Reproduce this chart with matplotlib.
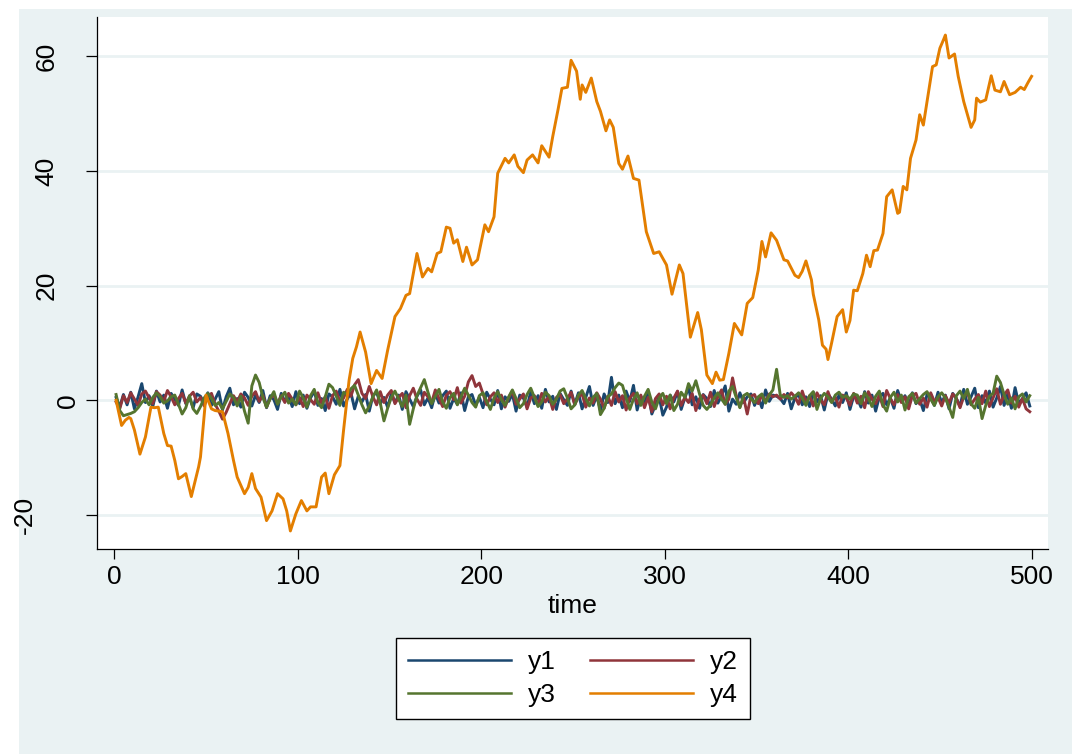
import matplotlib
matplotlib.use("Agg")
import matplotlib.pyplot as plt
import numpy as np
from matplotlib.patches import Rectangle
from matplotlib.transforms import blended_transform_factory

plt.rcParams['font.family'] = ['Liberation Sans', 'DejaVu Sans']

# Stata s2color palette
NAVY = "#1a476f"
MAROON = "#90353b"
FOREST = "#55752f"
DKORANGE = "#e37e00"
BLUISH = "#eaf2f3"

# y1..y3 read every second time step
t_noise = list(range(1, 500, 2))

y1 = [0.5, -1.2, 1.0, -0.8, 1.4, -1.5, 0.6, 2.9, -0.4, 0.8, -1.1, 1.6, -0.3, 0.9, -1.4, 1.2, 0.2, -0.9, 1.8, -0.6, 0.4, -1.3, 1.1, 0.7, -0.5,
      1.3, -0.9, 0.2, 1.5, -1.7, 0.6, 2.1, -0.8, 0.3, -1.2, 1.4, 0.5, -1.0, 0.9, -0.4, 1.7, -1.3, 0.8, 0.1, -1.6, 1.2, -0.2, 0.7, -1.1, 1.5,
      -0.6, 0.9, -1.4, 0.4, 1.6, -0.9, 0.3, -1.8, 1.1, 0.6, -0.7, 1.9, -1.0, 0.2, 1.3, -1.5, 0.7, -0.3, 1.0, -1.9, 0.8, 1.4, -0.6, 0.5, -1.2,
      1.1, -0.4, 0.9, -1.6, 1.5, 0.2, -1.1, 0.7, 1.8, -0.8, 0.4, -1.3, 1.2, -0.5, 0.8, 1.6, -1.4, 0.3, -0.7, 1.3, -1.8, 0.6, 1.0, -0.9, 0.5,
      -1.3, 1.4, 0.2, -0.8, 1.7, -1.5, 0.6, -0.2, 1.1, -1.9, 0.9, 0.4, -1.2, 1.5, -0.6, 0.8, -1.4, 1.9, -0.3, 0.7, -1.6, 1.2, 0.1, -0.9, 1.6,
      -0.7, 1.3, -1.5, 0.5, 2.4, -0.9, 0.8, -1.8, 1.1, -0.4, 4.0, -0.6, 0.9, -1.3, 1.6, -0.2, 2.6, -1.7, 0.7, -0.5, 1.4, -2.4, -0.8, 0.6, -2.6,
      -1.2, 0.9, -0.3, 1.5, -1.6, 0.4, 2.2, -0.8, 0.6, -1.4, 1.0, 0.3, -1.1, 1.7, -0.5, 0.8, 2.5, -1.9, 0.2, -0.7, 1.3, -0.4, 0.6, 1.1, -0.9,
      0.5, -1.3, 1.8, -0.2, 0.9, 0.7, 0.3, -0.6, 1.2, -1.5, 0.4, 1.0, -0.8, 0.6, -1.1, 1.4, -0.3, 0.8, -1.7, 1.1, 0.2, -1.0, 0.9, -0.4, 1.3,
      -1.6, 0.7, 0.3, -1.2, 1.5, -0.5, 0.9, -1.9, 0.6, 1.2, -0.8, 0.4, -1.4, 1.7, -0.2, 0.8, -1.1, 1.3, -0.6, 0.2, -1.8, 1.0, 0.5, -0.9, 1.4,
      -0.4, 0.9, -1.5, 1.2, 0.3, -1.1, 1.9, -0.7, 0.6, 2.1, -1.3, 0.8, -0.5, 1.6, -1.2, 0.4, 2.4, -0.9, 1.1, -1.4, 2.2, -0.6, 0.3, 1.3, -1.0]

y2 = [-0.3, -1.5, 0.8, -0.4, 1.3, 0.2, -0.9, 1.1, 1.6, 0.4, -0.6, 1.5, 0.9, -0.2, 1.7, 0.6, -0.8, 0.3, 1.2, -0.5, 0.7, 1.4, -0.3, 0.5, -1.0,
      0.6, 1.2, -0.7, -1.9, -3.3, -2.1, -0.6, 0.8, -0.3, 1.1, 0.4, -0.9, 0.7, 1.5, -0.2, 0.9, -1.2, 0.3, 1.0, -0.6, 0.8, -0.4, 1.2, 0.2, -0.8,
      0.5, -1.1, 0.9, 0.1, -0.7, 1.3, -0.5, 0.6, -1.4, 0.8, 1.6, -0.3, 0.4, 1.9, 0.7, 2.7, 3.6, 1.2, 0.3, 2.4, 0.6, -0.8, 1.5, -0.4, 0.9,
      1.7, -0.6, 0.5, 1.2, -1.3, 0.8, 2.1, 0.2, -0.9, 1.4, 0.6, -0.4, 1.8, 0.3, -1.1, 0.9, 1.5, 0.1, 2.2, -0.5, 0.7, 3.2, 4.3, 2.4, 3.0,
      1.1, -0.8, 0.6, 1.3, -0.4, 0.9, -1.2, 0.5, 1.6, -0.7, 0.2, 1.1, -1.5, 0.4, 0.8, -0.9, 1.2, -0.3, 0.7, -1.6, 0.5, 1.0, -0.6, 0.3, 1.4,
      -0.8, 0.6, 1.1, -1.2, 0.4, -0.5, 1.3, 0.2, -1.4, 0.7, -0.9, 1.5, -0.3, 0.8, -1.7, 0.4, 1.2, -0.6, 0.9, -1.3, 0.5, -2.0, 0.3, 1.1, -0.8,
      0.7, -1.5, 0.4, 1.6, -0.9, 0.5, -0.4, 1.2, -1.8, 0.3, 0.9, -0.6, 1.4, -1.1, 0.6, 1.8, -0.7, 0.2, 3.9, 0.8, -1.2, 0.5, -2.4, 0.7, 1.0,
      -0.6, 0.9, -0.2, 1.1, 0.6, 0.9, 0.2, 1.0, 0.4, 1.3, 0.6, -0.7, 1.6, -0.4, 0.8, -1.0, 1.3, 0.1, -0.8, 1.5, -0.3, 0.6, -1.2, 0.9, 0.4,
      -0.9, 1.2, -0.5, 0.7, -1.3, 1.5, 0.2, -0.6, 0.9, -1.1, 1.7, 0.3, -0.8, 1.0, -0.4, 0.6, -1.5, 0.8, 1.2, -0.7, 0.4, -1.2, 1.3, -0.2, 0.5,
      -1.0, 0.8, -0.5, 1.1, 0.3, -1.3, 0.6, 1.4, -0.8, 0.2, 1.0, -0.6, 1.6, -1.1, 0.4, 2.0, -0.7, 0.9, 1.8, -0.5, 0.7, -1.2, 0.3, -1.5, -2.0]

y3 = [1.0, -1.8, -2.7, -2.5, -2.3, -2.0, -1.3, -0.4, 0.2, -0.8, 0.5, 1.3, 0.6, -0.5, -0.1, 0.6, 0.9, -0.7, -2.4, -1.3, 0.8, -1.5, -2.3, -1.1, 0.4,
      1.2, 0.3, -0.9, -0.4, -1.5, -0.2, 1.1, 0.5, -1.0, 0.7, -1.9, -4.0, 2.5, 4.4, 3.1, 0.5, -1.2, 0.3, 1.5, -0.7, 0.6, 1.4, -0.5, 0.2, -0.8,
      1.6, 0.4, -1.2, 0.8, 1.9, -0.4, -1.3, 0.6, 2.8, 2.2, 0.7, -0.9, 1.4, 1.0, 2.0, 2.6, 0.9, -0.8, -2.2, -1.0, 0.6, 1.8, -0.5, -3.6, -1.4,
      0.5, 1.6, 0.2, -1.1, 0.9, -4.2, -1.5, 0.8, 2.2, 3.6, 1.4, -0.6, 0.7, 1.9, -0.3, -1.4, 0.5, 1.2, -0.8, 0.6, 2.1, 0.9, -0.4, -1.2, 0.8,
      1.3, -0.2, -1.6, 0.4, 1.5, 0.1, -0.9, 0.6, 1.8, 0.3, -1.3, -0.6, 1.0, 2.1, 0.5, -1.1, -0.3, 1.4, 0.8, -0.7, 0.2, 1.6, 2.0, 0.4, -1.5,
      -0.8, 0.9, 1.7, 0.3, -1.0, 0.5, 1.2, -2.5, -1.4, 0.6, 1.1, 2.2, 3.0, 2.6, 0.4, -1.6, 0.2, 1.3, -0.9, 0.7, 1.9, -0.3, -1.5, 0.4, 1.2,
      -0.6, 0.9, -1.8, -0.7, 1.4, 0.5, 2.9, 1.6, 3.4, 1.1, -0.9, -1.6, -0.8, 0.4, 1.3, 0.2, -0.7, 1.6, 2.4, 0.5, -1.3, 0.8, 1.2, 0.3, -0.4,
      0.6, 1.1, -0.5, 0.9, 1.8, 5.4, 0.9, 0.5, 0.8, 0.2, 0.7, 1.3, 0.4, -0.9, 0.8, 1.5, -1.6, 0.3, 1.2, 0.6, -0.4, 0.9, 1.4, 0.5, 0.8,
      0.2, 1.1, 0.9, -0.6, 1.3, 0.4, -1.1, 0.7, 1.6, -0.8, -1.9, 0.5, 1.4, -0.3, 0.9, -1.7, 0.6, 1.2, -0.5, 0.3, 1.0, 1.5, 0.2, -0.9, 0.6,
      1.3, 0.4, -1.2, -3.0, 0.8, 1.6, 0.3, 1.9, -0.6, -1.4, 0.5, -3.2, -0.9, 0.7, 1.2, 4.2, 3.1, 1.0, -0.7, 0.4, -1.5, 0.6, 1.1, -0.3, 0.8]

# y4 (random walk) read at its turning points
t4 = [1, 4, 6, 8, 9, 11, 14, 17, 18, 20, 22, 24, 27, 29, 31, 33, 35, 37, 39, 42, 46, 47, 50, 53, 55, 57, 59,
      62, 65, 67, 71, 73, 75, 77, 80, 83, 86, 89, 92, 94, 96, 99, 102, 105, 107, 110, 113, 115, 117, 120, 123,
      125, 128, 130, 132, 134, 137, 140, 143, 146, 149, 153, 156, 159, 161, 165, 168, 171, 173, 176, 178, 181,
      183, 185, 187, 190, 192, 195, 198, 202, 204, 207, 209, 213, 215, 218, 220, 223, 225, 228, 231, 233, 237,
      239, 242, 244, 247, 249, 252, 254, 255, 257, 260, 263, 265, 268, 270, 272, 275, 277, 280, 283, 286, 290,
      294, 297, 301, 304, 308, 310, 314, 318, 320, 323, 326, 328, 330, 332, 335, 338, 342, 345, 348, 351, 353,
      355, 358, 361, 365, 367, 371, 373, 375, 377, 380, 381, 384, 386, 388, 389, 391, 394, 397, 399, 401, 403,
      405, 408, 410, 412, 414, 416, 419, 421, 424, 427, 428, 430, 432, 434, 437, 439, 441, 443, 446, 448, 450,
      452, 453, 455, 458, 460, 463, 467, 469, 470, 472, 475, 478, 480, 483, 485, 488, 491, 494, 496, 498, 500]
y4 = [0, -4.4, -3.5, -3.0, -3.2, -5.2, -9.4, -6.4, -4.7, -1.2, -1.3, -1.2, -5.8, -7.9, -8.0, -10.5, -13.7, -13.3, -12.8, -16.8, -11.6, -9.9, 0.9, -1.5, -1.8, -1.9, -2.0,
      -5.8, -10.5, -13.4, -16.3, -15.2, -12.8, -15.4, -16.9, -21.0, -19.3, -16.3, -17.2, -19.3, -22.8, -19.8, -17.5, -19.3, -18.6, -18.6, -13.4, -12.7, -16.3, -13.0, -11.4,
      -5.2, 3.5, 7.3, 9.3, 11.9, 8.4, 2.9, 5.2, 3.8, 8.7, 14.6, 16.0, 18.3, 18.6, 25.6, 21.5, 23.0, 22.4, 25.6, 25.9, 30.2,
      30.0, 27.4, 28.0, 24.2, 26.7, 23.6, 24.5, 30.6, 29.4, 32.0, 39.6, 42.2, 41.4, 42.8, 40.8, 39.7, 41.9, 42.8, 41.4, 44.4, 42.4,
      46.0, 50.9, 54.4, 54.6, 59.3, 57.4, 52.5, 55.0, 53.7, 56.2, 52.1, 50.4, 47.0, 48.9, 47.6, 41.3, 40.3, 42.6, 38.7, 38.4, 29.4,
      25.6, 25.9, 23.6, 18.5, 23.6, 22.1, 11.0, 15.3, 12.3, 4.4, 2.9, 4.9, 3.5, 3.6, 8.2, 13.4, 11.4, 16.9, 17.9, 22.7, 27.7,
      25.0, 29.2, 27.9, 24.5, 24.3, 21.8, 21.4, 22.5, 24.3, 21.0, 18.5, 14.0, 9.6, 8.9, 7.1, 10.0, 14.6, 15.8, 11.9, 13.9, 19.2,
      19.1, 22.1, 25.3, 23.3, 26.1, 26.2, 29.1, 35.5, 36.7, 32.6, 32.8, 37.3, 36.7, 42.2, 45.4, 49.8, 48.0, 52.1, 58.2, 58.5, 61.4,
      62.9, 63.7, 59.7, 60.4, 56.5, 52.1, 47.6, 48.9, 52.7, 52.0, 52.4, 56.6, 54.1, 53.8, 55.6, 53.3, 53.7, 54.6, 54.2, 55.4, 56.5]

x_ticks = [0, 100, 200, 300, 400, 500]
y_ticks = [-20, 0, 20, 40, 60]

W, H = 1072, 754
fig = plt.figure(figsize=(W / 100, H / 100), dpi=100, facecolor="white")
# graph region (light bluish), with thin white strip left and top
fig.patches.append(Rectangle((19 / W, 0), 1 - 19 / W, 1 - 9 / H, transform=fig.transFigure,
                             facecolor=BLUISH, edgecolor="none", zorder=-10))

ax = fig.add_axes([97 / W, 1 - 549.3 / H, (1048.3 - 97) / W, (549.3 - 17.3) / H])
ax.set_facecolor("white")

lw = 2.1
h1, = ax.plot(t_noise, y1, color=NAVY, lw=lw, label="y1")
h2, = ax.plot(t_noise, y2, color=MAROON, lw=lw, label="y2")
h3, = ax.plot(t_noise, y3, color=FOREST, lw=lw, label="y3")
h4, = ax.plot(t4, y4, color=DKORANGE, lw=lw, label="y4")

ax.set_xlim(-9.4, 509.1)
ax.set_ylim(-26.0, 66.8)

for s in ["top", "right"]:
    ax.spines[s].set_visible(False)
for s in ["left", "bottom"]:
    ax.spines[s].set_linewidth(0.9)
    ax.spines[s].set_color("black")

ax.set_yticks(y_ticks)
ax.yaxis.grid(True, color=BLUISH, lw=2.0)
ax.set_axisbelow(True)
ax.tick_params(axis="y", direction="out", length=8, width=0.9, labelleft=False)

ax.set_xticks(x_ticks)
ax.tick_params(axis="x", direction="out", length=7.5, width=0.9, pad=4, labelsize=19)

# rotated y labels, placed like the Stata export does
tr = blended_transform_factory(fig.transFigure, ax.transData)
for v in y_ticks:
    s = str(v)
    xc = 68.5 - 22 * (len(s) - 1)
    ax.text(xc / W, v, s, transform=tr, rotation=90, ha="center", va="center", fontsize=19)

ax.set_xlabel("time", fontsize=19)
ax.xaxis.set_label_coords(0.5, -(606 - 549.3) / 532)
ax.xaxis.label.set_va("center")

# legend filled row-wise: y1 y2 / y3 y4
leg = fig.legend([h1, h3, h2, h4], ["y1", "y3", "y2", "y4"], loc="center",
                 bbox_to_anchor=(573 / W, 1 - 678.5 / H), ncol=2, fontsize=19,
                 frameon=True, fancybox=False, framealpha=1, handlelength=3.9, handletextpad=0.65,
                 columnspacing=1.3, labelspacing=0.35, borderpad=0.45)
leg.get_frame().set_edgecolor("black")
leg.get_frame().set_linewidth(1.0)
leg.get_frame().set_facecolor("white")
for ln in leg.get_lines():
    ln.set_linewidth(1.8)

fig.savefig("out.png", dpi=100, facecolor=fig.get_facecolor())
